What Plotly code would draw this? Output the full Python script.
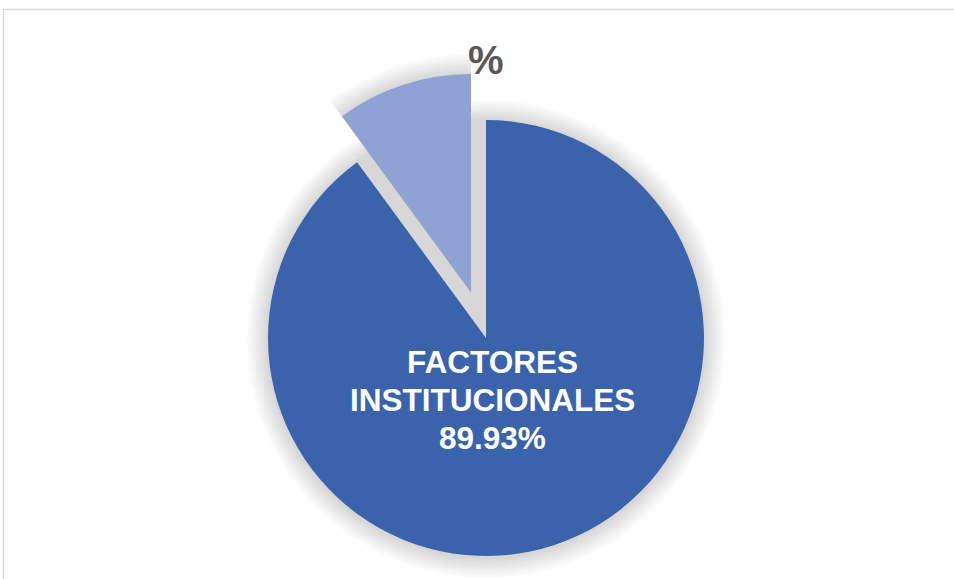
import plotly.graph_objects as go

labels = ["FACTORES INSTITUCIONALES", "OTROS"]
values = [89.93, 10.07]
colors = ["#3B63AB", "#8EA3D3"]
inside_lines = ["FACTORES", "INSTITUCIONALES", "89.93%"]
outside_label = "%"

W, H = 954, 579
CX, CY, R = 486, 338, 218
PULL_DX, PULL_DY = -15, -46
DIRECTION = "clockwise"


def dom(cx, cy, r):
    y0 = max(0.0, (H - (cy + r)) / H)
    y1 = min(1.0, (H - (cy - r)) / H)
    return dict(x=[(cx - r) / W, (cx + r) / W], y=[y0, y1])


fig = go.Figure()

# soft shadow layers: full pie at main position, pulled slice at its offset
for k in range(8, 0, -1):
    for idx, (dx, dy) in [(None, (0, 0)), (1, (PULL_DX, PULL_DY))]:
        if idx is None:
            cols = ["rgba(0,0,0,0.018)"] * 2
        else:
            cols = ["rgba(0,0,0,0)"] * 2
            cols[idx] = "rgba(0,0,0,0.018)"
        fig.add_trace(go.Pie(
            labels=labels, values=values, sort=False, direction=DIRECTION, rotation=0,
            marker=dict(colors=cols, line=dict(width=0)), textinfo="none", hoverinfo="skip",
            domain=dom(CX + dx, CY + dy + 1, R + k * 2.6), showlegend=False,
        ))

# main slice
fig.add_trace(go.Pie(
    labels=labels, values=values, sort=False, direction=DIRECTION, rotation=0,
    marker=dict(colors=[colors[0], "rgba(0,0,0,0)"], line=dict(width=0)),
    textinfo="none", hoverinfo="skip", domain=dom(CX, CY, R), showlegend=False,
))
# pulled slice
fig.add_trace(go.Pie(
    labels=labels, values=values, sort=False, direction=DIRECTION, rotation=0,
    marker=dict(colors=["rgba(0,0,0,0)", colors[1]], line=dict(width=0)),
    textinfo="none", hoverinfo="skip", domain=dom(CX + PULL_DX, CY + PULL_DY, R), showlegend=False,
))

for line, ypx in zip(inside_lines, [362, 400, 438]):
    fig.add_annotation(x=493 / W, y=(H - ypx) / H, xref="paper", yref="paper", text="<b>" + line + "</b>",
                       showarrow=False, font=dict(family="Liberation Sans, Arial", size=31.5, color="white"),
                       align="center", xanchor="center", yanchor="middle")
fig.add_annotation(x=486 / W, y=(H - 60) / H, xref="paper", yref="paper", text="<b>" + outside_label + "</b>",
                   showarrow=False, font=dict(family="Liberation Sans, Arial", size=40, color="#595959"),
                   xanchor="center", yanchor="middle")

fig.add_shape(type="rect", xref="paper", yref="paper", x0=3.5 / W, x1=1.05, y0=-0.05, y1=(H - 9.5) / H,
              line=dict(color="#D9D9D9", width=1.5), fillcolor="rgba(0,0,0,0)", layer="below")

fig.update_layout(width=W, height=H, margin=dict(l=0, r=0, t=0, b=0),
                  paper_bgcolor="white", plot_bgcolor="white", showlegend=False)

fig.write_html("out.html", config={"displayModeBar": False},
               post_script="document.body.style.margin='0px';")
